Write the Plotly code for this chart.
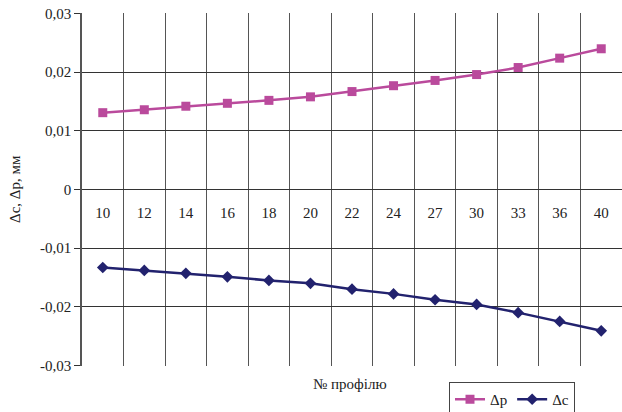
import plotly.graph_objects as go

profiles = ["10", "12", "14", "16", "18", "20", "22", "24", "27", "30", "33", "36", "40"]
dp = [0.0131, 0.0136, 0.0142, 0.0147, 0.0152, 0.0158, 0.0167, 0.0177, 0.0186, 0.0196, 0.0208, 0.0224, 0.0240]
dc = [-0.0133, -0.0138, -0.0143, -0.0149, -0.0155, -0.0160, -0.0170, -0.0178, -0.0188, -0.0196, -0.0210, -0.0225, -0.0241]
ytick_vals = [-0.03, -0.02, -0.01, 0, 0.01, 0.02, 0.03]
ytick_text = ["-0,03", "-0,02", "-0,01", "0", "0,01", "0,02", "0,03"]

FONT = "Liberation Serif, Times New Roman, serif"
W, H = 622, 412
L, R, T, B = 82, 0, 13, 46
PW, PH = W - L - R, H - T - B

def px(xw):  # window x -> paper fraction
    return (xw - L) / PW

def py(yw):  # window y -> paper fraction
    return (H - B - yw) / PH

fig = go.Figure()
fig.add_trace(go.Scatter(x=profiles, y=dp, name="Δp", mode="lines+markers",
                         line=dict(color="#BA4A9C", width=2.5),
                         marker=dict(symbol="square", size=9, color="#BA4A9C")))
fig.add_trace(go.Scatter(x=profiles, y=dc, name="Δc", mode="lines+markers",
                         line=dict(color="#22226E", width=2.5),
                         marker=dict(symbol="diamond", size=9, color="#22226E")))

fig.update_layout(
    width=W, height=H,
    margin=dict(l=L, r=R, t=T, b=B, autoexpand=False),
    plot_bgcolor="white", paper_bgcolor="white",
    font=dict(family=FONT, size=15, color="#222"),
    showlegend=True,
    legend=dict(orientation="h", x=px(449), y=py(382),
                xanchor="left", yanchor="top",
                bordercolor="#444", borderwidth=1, font=dict(size=15, family=FONT),
                itemwidth=30, tracegroupgap=0),
    xaxis=dict(type="category", tickson="boundaries", showgrid=True, automargin=False,
               range=[-0.5, len(profiles) - 0.5],
               gridcolor="#555", gridwidth=1, showline=False, zeroline=False,
               ticks="", anchor="free", position=0.5, ticklabelstandoff=12,
               tickfont=dict(size=15, family=FONT)),
    yaxis=dict(range=[-0.0301, 0.0301], tickvals=ytick_vals, ticktext=ytick_text,
               automargin=False, ticklabeloverflow="allow",
               showgrid=True, gridcolor="#333", gridwidth=1, zeroline=False,
               showline=True, linecolor="#555", linewidth=1.5,
               ticks="outside", ticklen=6, tickcolor="#333",
               tickfont=dict(size=15, family=FONT)),
    annotations=[
        dict(text="Δc, Δp, мм", x=px(15), y=py(189), xref="paper", yref="paper",
             showarrow=False, textangle=-90, xanchor="center", yanchor="middle",
             font=dict(size=15, family=FONT)),
        dict(text="№ профілю", x=px(350), y=py(384), xref="paper", yref="paper",
             showarrow=False, xanchor="center", yanchor="middle", font=dict(size=15, family=FONT)),
    ],
)

fig.write_html("out.html", config={"displayModeBar": False},
               post_script="document.body.style.margin='0';document.body.style.overflow='hidden';")
